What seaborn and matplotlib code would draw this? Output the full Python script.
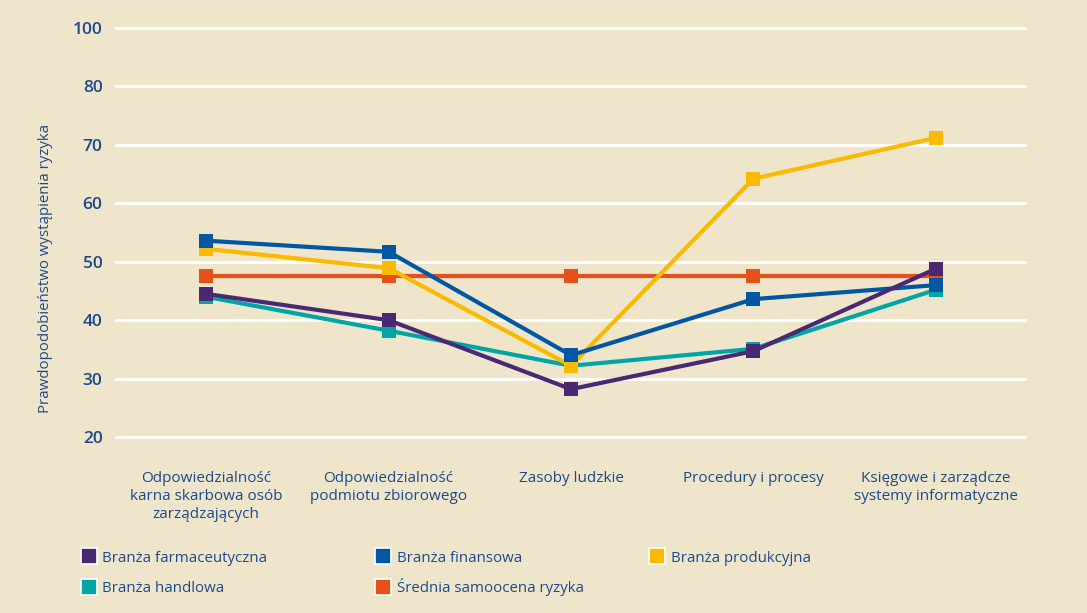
import pandas as pd
import matplotlib
matplotlib.use("Agg")
import matplotlib.pyplot as plt
from matplotlib.lines import Line2D
import seaborn as sns

# categories on the x axis
categories = [
    "Odpowiedzialność\nkarna skarbowa osób\nzarządzających",
    "Odpowiedzialność\npodmiotu zbiorowego",
    "Zasoby ludzkie",
    "Procedury i procesy",
    "Księgowe i zarządcze\nsystemy informatyczne",
]

# values
farmaceutyczna = [44.5, 40.0, 28.2, 34.7, 48.8]
finansowa = [53.6, 51.7, 34.0, 43.6, 46.0]
produkcyjna = [52.2, 48.9, 32.2, 64.2, 71.2]
handlowa = [44.0, 38.2, 32.2, 35.1, 45.2]
srednia = [47.6, 47.6, 47.6, 47.6, 47.6]

# y ticks as printed (the chart labels the 90 line as "100")
ytick_values = [20, 30, 40, 50, 60, 70, 80, 90]
ytick_labels = ["20", "30", "40", "50", "60", "70", "80", "100"]

series = {
    "Branża farmaceutyczna": farmaceutyczna,
    "Branża finansowa": finansowa,
    "Branża produkcyjna": produkcyjna,
    "Branża handlowa": handlowa,
    "Średnia samoocena ryzyka": srednia,
}
colors = {
    "Branża farmaceutyczna": "#4B2874",
    "Branża finansowa": "#0057A4",
    "Branża produkcyjna": "#FBB900",
    "Branża handlowa": "#00A6A6",
    "Średnia samoocena ryzyka": "#E6501B",
}
draw_order = ["Branża handlowa", "Średnia samoocena ryzyka", "Branża produkcyjna",
              "Branża finansowa", "Branża farmaceutyczna"]

text_blue = "#1C4B8C"
bg = "#EFE5CB"

sns.set_style("white")
plt.rcParams["font.family"] = ["Open Sans", "DejaVu Sans"]

fig = plt.figure(figsize=(10.87, 6.13), dpi=100, facecolor=bg)
ax = fig.add_axes([0.1058, 0.2727, 0.839, 0.696])
ax.set_facecolor(bg)

rows = []
for name, vals in series.items():
    for i, v in enumerate(vals):
        rows.append({"series": name, "x": i, "value": v})
df = pd.DataFrame(rows)

for z, name in enumerate(draw_order):
    sns.lineplot(data=df[df["series"] == name], x="x", y="value", color=colors[name],
                 marker="s", markersize=10, markeredgewidth=0, linewidth=3,
                 ax=ax, zorder=3 + z, legend=False)

ax.set_xlim(-0.5, 4.5)
ax.set_ylim(18.5, 91.5)
ax.set_yticks(ytick_values)
ax.set_yticklabels(ytick_labels)
ax.set_xticks(range(len(categories)))
ax.set_xticklabels(categories, linespacing=1.3)
ax.grid(axis="y", color="white", linewidth=2)
ax.set_axisbelow(True)
for s in ax.spines.values():
    s.set_visible(False)
ax.tick_params(axis="y", length=0, pad=9, labelsize=12.5, labelcolor=text_blue)
ax.tick_params(axis="x", length=0, pad=18, labelsize=11, labelcolor=text_blue)
for lab in ax.get_yticklabels():
    lab.set_fontweight("semibold")
ax.set_xlabel("")
ax.set_ylabel("Prawdopodobieństwo wystąpienia ryzyka", color=text_blue, fontsize=10.8)
ax.yaxis.set_label_coords(-0.068, 0.415)

# legend laid out in a fixed grid like the original
legend_pos = {
    "Branża farmaceutyczna": (0.076, 0.0897),
    "Branża handlowa": (0.076, 0.0392),
    "Branża finansowa": (0.347, 0.0897),
    "Średnia samoocena ryzyka": (0.347, 0.0425),
    "Branża produkcyjna": (0.599, 0.0897),
}
for name, (x0, y0) in legend_pos.items():
    handle = Line2D([], [], linestyle="none", marker="s", markersize=11,
                    markerfacecolor=colors[name], markeredgecolor="white", markeredgewidth=1.2)
    leg = fig.legend([handle], [name], loc="center left", bbox_to_anchor=(x0, y0),
                     frameon=False, fontsize=10.8, handlelength=0.8, handletextpad=0.5,
                     borderaxespad=0, borderpad=0)
    for t in leg.get_texts():
        t.set_color(text_blue)

fig.savefig("out.png", dpi=100, facecolor=bg)
